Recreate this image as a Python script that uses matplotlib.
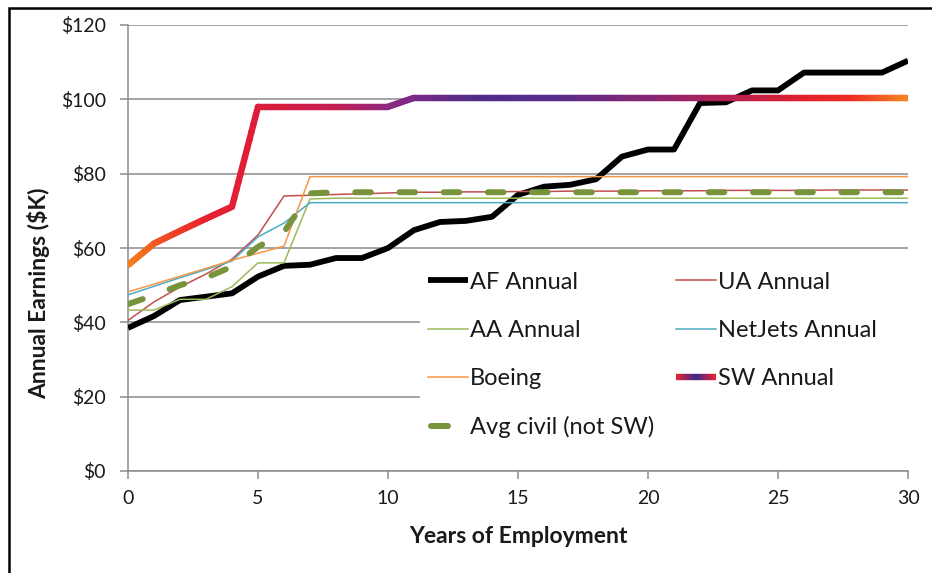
import numpy as np
import matplotlib
matplotlib.use("Agg")
import matplotlib.pyplot as plt
from matplotlib.collections import LineCollection
from matplotlib.colors import LinearSegmentedColormap
from matplotlib.legend_handler import HandlerBase
from matplotlib.lines import Line2D
from matplotlib.patches import Rectangle

plt.rcParams['font.family'] = ['Lato', 'DejaVu Sans']

# ---------------- data ----------------
years = [0, 1, 2, 3, 4, 5, 6, 7, 8, 9, 10, 11, 12, 13, 14, 15,
         16, 17, 18, 19, 20, 21, 22, 23, 24, 25, 26, 27, 28, 29, 30]
af_annual = [38.5, 41.7, 46.0, 46.9, 47.8, 52.3, 55.2, 55.5, 57.3, 57.3, 60.0,
             64.8, 67.0, 67.3, 68.4, 74.3, 76.5, 77.0, 78.5, 84.6, 86.5,
             86.5, 99.0, 99.2, 102.4, 102.4, 107.2, 107.2, 107.2, 107.2, 110.4]
ua_annual = [40.5, 45.5, 49.5, 53.0, 57.0, 63.5, 74.0, 74.2, 74.4, 74.6, 74.8,
             75.0, 75.0, 75.1, 75.1, 75.2, 75.2, 75.3, 75.3, 75.3, 75.4,
             75.4, 75.4, 75.5, 75.5, 75.5, 75.5, 75.6, 75.6, 75.6, 75.6]
aa_annual = [43.3, 43.3, 46.2, 46.2, 49.6, 56.0, 56.0, 73.2, 73.4, 73.4, 73.4,
             73.4, 73.4, 73.4, 73.4, 73.4, 73.4, 73.4, 73.4, 73.4, 73.4,
             73.4, 73.4, 73.4, 73.4, 73.4, 73.4, 73.4, 73.4, 73.4, 73.4]
netjets_annual = [47.4, 49.7, 52.0, 54.2, 56.5, 63.0, 66.7, 72.2, 72.2, 72.2, 72.2,
                  72.2, 72.2, 72.2, 72.2, 72.2, 72.2, 72.2, 72.2, 72.2, 72.2,
                  72.2, 72.2, 72.2, 72.2, 72.2, 72.2, 72.2, 72.2, 72.2, 72.2]
boeing = [48.2, 50.3, 52.4, 54.5, 56.7, 58.6, 60.5, 79.2, 79.2, 79.2, 79.2,
          79.2, 79.2, 79.2, 79.2, 79.2, 79.2, 79.2, 79.2, 79.2, 79.2,
          79.2, 79.2, 79.2, 79.2, 79.2, 79.2, 79.2, 79.2, 79.2, 79.2]
sw_annual = [55.4, 61.2, 64.6, 67.9, 71.1, 98.0, 98.0, 98.0, 98.0, 98.0, 98.0,
             100.4, 100.4, 100.4, 100.4, 100.4, 100.4, 100.4, 100.4, 100.4, 100.4,
             100.4, 100.4, 100.4, 100.4, 100.4, 100.4, 100.4, 100.4, 100.4, 100.4]
avg_civil = [44.9, 47.3, 50.0, 52.0, 55.0, 60.3, 64.3, 74.7, 75.0, 75.0, 75.0,
             75.0, 75.0, 75.0, 75.0, 75.0, 75.0, 75.0, 75.0, 75.0, 75.0,
             75.0, 75.0, 75.0, 75.0, 75.0, 75.0, 75.0, 75.0, 75.0, 75.0]

y_ticks = [0, 20, 40, 60, 80, 100, 120]
y_tick_labels = ['$0', '$20', '$40', '$60', '$80', '$100', '$120']
x_ticks = [0, 5, 10, 15, 20, 25, 30]

# ---------------- styling ----------------
sw_cmap = LinearSegmentedColormap.from_list('sw', [
    (0.00, '#F5821F'), (0.05, '#F04A24'), (0.10, '#E8222E'), (0.17, '#DC1C3A'),
    (0.27, '#C21E55'), (0.34, '#8A2A84'), (0.45, '#4E2D88'), (0.55, '#562D8A'),
    (0.68, '#8C2572'), (0.78, '#B8204F'), (0.87, '#E1202E'), (0.93, '#EE2B25'),
    (1.00, '#F5821F')])
legend_cmap = LinearSegmentedColormap.from_list('swleg', [
    (0.0, '#E8222E'), (0.5, '#3A2A8C'), (1.0, '#E8222E')])

grid_color = '#8C8C8C'
text_color = '#1A1A1A'

fig = plt.figure(figsize=(9.32, 5.73), dpi=100)
ax = fig.add_axes([128 / 932, 1 - 471 / 573, 780 / 932, 446 / 573])
ax.set_axisbelow(True)

# outer frame (top and left visible; right/bottom cropped)
fig.patches.append(Rectangle((9 / 932, -0.1), 1.2, 1 - 8 / 573 + 0.1,
                             transform=fig.transFigure, fill=False,
                             edgecolor='black', linewidth=1.8, zorder=0))

ax.set_xlim(0, 30)
ax.set_ylim(0, 120)
ax.set_yticks(y_ticks)
ax.set_yticklabels(y_tick_labels)
ax.set_xticks(x_ticks)
ax.grid(axis='y', color=grid_color, linewidth=1.1)
for s in ['top', 'right']:
    ax.spines[s].set_visible(False)
for s in ['left', 'bottom']:
    ax.spines[s].set_color(grid_color)
    ax.spines[s].set_linewidth(1.1)
ax.tick_params(axis='both', colors=grid_color, length=6, width=1.1,
               labelcolor=text_color, labelsize=14)
ax.tick_params(axis='y', pad=10)
ax.tick_params(axis='x', pad=8)

# white legend background area (hides gridlines behind legend)
ax.add_patch(Rectangle(((420 - 128) / 780, (471 - 447) / 446),
                       (908 - 420) / 780, (447 - 258) / 446,
                       transform=ax.transAxes, facecolor='white',
                       edgecolor='none', zorder=1))

# series (Excel order: later ones on top)
l_af, = ax.plot(years, af_annual, color='black', lw=4.2,
                solid_joinstyle='round', solid_capstyle='butt', zorder=3)
l_ua, = ax.plot(years, ua_annual, color='#C0504D', lw=1.1, zorder=4)
l_aa, = ax.plot(years, aa_annual, color='#9BBB59', lw=1.1, zorder=4)
l_nj, = ax.plot(years, netjets_annual, color='#4BACC6', lw=1.1, zorder=4)
l_bo, = ax.plot(years, boeing, color='#F79646', lw=1.1, zorder=4)

# SW gradient line
xs_sw = np.asarray(years, dtype=float)
ys_sw = np.asarray(sw_annual, dtype=float)
segs = []
cols = []
nsub = 12
for i in range(len(xs_sw) - 1):
    t = np.linspace(0, 1, nsub + 1)
    sx = xs_sw[i] + (xs_sw[i + 1] - xs_sw[i]) * t
    sy = ys_sw[i] + (ys_sw[i + 1] - ys_sw[i]) * t
    for j in range(nsub):
        segs.append([(sx[j], sy[j]), (sx[j + 1], sy[j + 1])])
        cols.append(sw_cmap(((sx[j] + sx[j + 1]) / 2) / 30.0))
sw_lc = LineCollection(segs, colors=cols, linewidths=4.6, capstyle='round',
                       joinstyle='round', zorder=5)
ax.add_collection(sw_lc)

l_avg, = ax.plot(years, avg_civil, color='#77933C', lw=4.3,
                 dashes=(2.6, 4.8), dash_capstyle='round', zorder=6)


class HandlerGradient(HandlerBase):
    def create_artists(self, legend, orig_handle, xdescent, ydescent,
                       width, height, fontsize, trans):
        n = 30
        xs = np.linspace(-xdescent, width - xdescent, n + 1)
        y = height / 2 - ydescent
        s = [[(xs[k], y), (xs[k + 1], y)] for k in range(n)]
        lc = LineCollection(s, colors=legend_cmap(np.linspace(0, 1, n)),
                            linewidths=4.6, transform=trans)
        return [lc]


class HandlerShortDash(HandlerBase):
    def create_artists(self, legend, orig_handle, xdescent, ydescent,
                       width, height, fontsize, trans):
        y = height / 2 - ydescent
        ln = Line2D([-xdescent + 2, -xdescent + width * 0.5], [y, y],
                    color='#77933C', lw=4.3, solid_capstyle='round',
                    transform=trans)
        return [ln]


sw_handle = Line2D([], [], color='#E8222E')
avg_handle = Line2D([], [], color='#77933C', lw=4.3)

handles = [l_af, l_aa, l_bo, avg_handle, l_ua, l_nj, sw_handle]
labels = ['AF Annual', 'AA Annual', 'Boeing', 'Avg civil (not SW)',
          'UA Annual', 'NetJets Annual', 'SW Annual']
leg = ax.legend(handles, labels, ncol=2, loc='upper left',
                bbox_to_anchor=((423 - 128) / 780, (471 - 267) / 446),
                frameon=False,
                fontsize=17, handlelength=1.7, handletextpad=0.1,
                labelspacing=1.15, columnspacing=0.9, borderpad=0.2,
                borderaxespad=0,
                handler_map={sw_handle: HandlerGradient(),
                             avg_handle: HandlerShortDash()})
leg.set_zorder(7)
for t in leg.get_texts():
    t.set_color(text_color)

ax.set_xlabel('Years of Employment', fontsize=16.5, fontweight='bold',
              color=text_color)
ax.xaxis.set_label_coords(0.5, -(526 - 471) / 446)
ax.set_ylabel('Annual Earnings ($K)', fontsize=16.5, fontweight='bold',
              color=text_color)
ax.yaxis.set_label_coords((50 - 128) / 780, (471 - 293) / 446)

fig.savefig('out.png', dpi=100)
